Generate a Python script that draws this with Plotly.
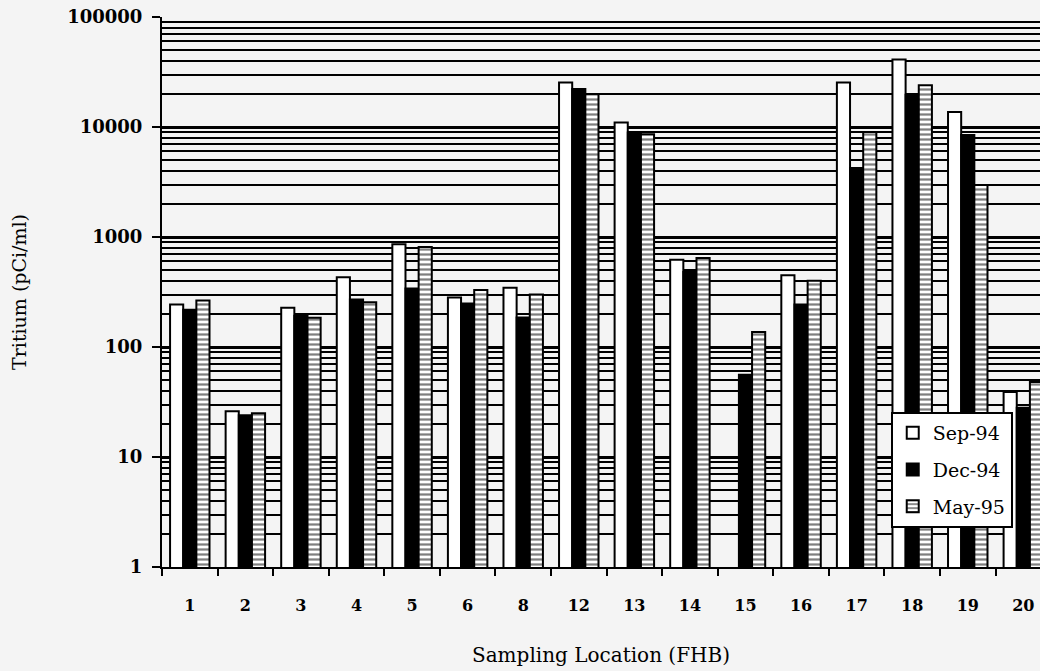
import plotly.graph_objects as go

locations = ["1", "2", "3", "4", "5", "6", "8", "12", "13", "14", "15", "16", "17", "18", "19", "20"]
sep94 = [243, 26, 228, 430, 860, 282, 345, 25400, 11000, 620, None, 450, 25400, 41000, 13700, 39]
dec94 = [218, 24, 192, 270, 340, 248, 185, 22100, 8900, 480, 56, 243, 4240, 19600, 8450, 28]
may95 = [264, 25, 184, 255, 810, 330, 300, 20000, 8600, 645, 137, 400, 9000, 24000, 2970, 48]

ytick_vals = [1, 10, 100, 1000, 10000, 100000]
ytick_text = ["1", "10", "100", "1000", "10000", "100000"]

serif = "DejaVu Serif"
bg = "#f4f4f4"

fig = go.Figure()
fig.add_trace(go.Bar(
    x=locations, y=sep94, name="Sep-94", legendgroup="a",
    marker=dict(color="white", line=dict(color="black", width=2)),
))
fig.add_trace(go.Bar(
    x=locations, y=dec94, name="Dec-94", legendgroup="b",
    marker=dict(color="black", line=dict(color="black", width=2)),
))
fig.add_trace(go.Bar(
    x=locations, y=may95, name="May-95", legendgroup="c",
    marker=dict(color="white", line=dict(color="black", width=2),
                pattern=dict(shape="-", fgcolor="black", bgcolor="white",
                             size=5, solidity=0.45, fillmode="overlay")),
))

fig.update_layout(
    width=1040, height=671,
    paper_bgcolor=bg, plot_bgcolor=bg,
    margin=dict(l=162, r=0, t=17, b=104),
    barmode="group", bargap=0.29, bargroupgap=0.0,
    font=dict(family=serif, color="black"),
    showlegend=True,
    legend=dict(
        x=0.830, y=0.282, xanchor="left", yanchor="top",
        bgcolor="white", bordercolor="black", borderwidth=2,
        font=dict(family=serif, size=19, color="black"),
        itemwidth=30, tracegroupgap=9, traceorder="grouped",
    ),
)

fig.update_xaxes(
    type="category", range=[-0.5, 15.3], automargin=False,
    showline=True, linecolor="black", linewidth=2,
    ticks="outside", tickson="boundaries", ticklen=7, tickwidth=2, tickcolor="black",
    tickfont=dict(family=serif, size=16, weight="bold"),
    ticklabelstandoff=23, ticklabeloverflow="allow",
    showgrid=False,
    title=dict(text="Sampling Location (FHB)", font=dict(family=serif, size=20), standoff=34),
)

fig.update_yaxes(
    type="log", range=[0, 5], automargin=False,
    tickvals=ytick_vals, ticktext=ytick_text,
    tickfont=dict(family=serif, size=18, weight="bold"),
    ticks="outside", ticklen=8, tickwidth=2, tickcolor="black",
    ticklabelstandoff=6, ticklabeloverflow="allow",
    showline=True, linecolor="black", linewidth=2,
    showgrid=True, gridcolor="black", gridwidth=3,
    minor=dict(dtick="D1", showgrid=True, gridcolor="black", gridwidth=2, ticks=""),
    zeroline=False,
    title=dict(text="Tritium (pCi/ml)", font=dict(family=serif, size=19), standoff=36),
)

fig.write_html(
    "out.html",
    config={"displayModeBar": False},
    post_script="document.body.style.margin='0';document.body.style.overflow='hidden';",
)
